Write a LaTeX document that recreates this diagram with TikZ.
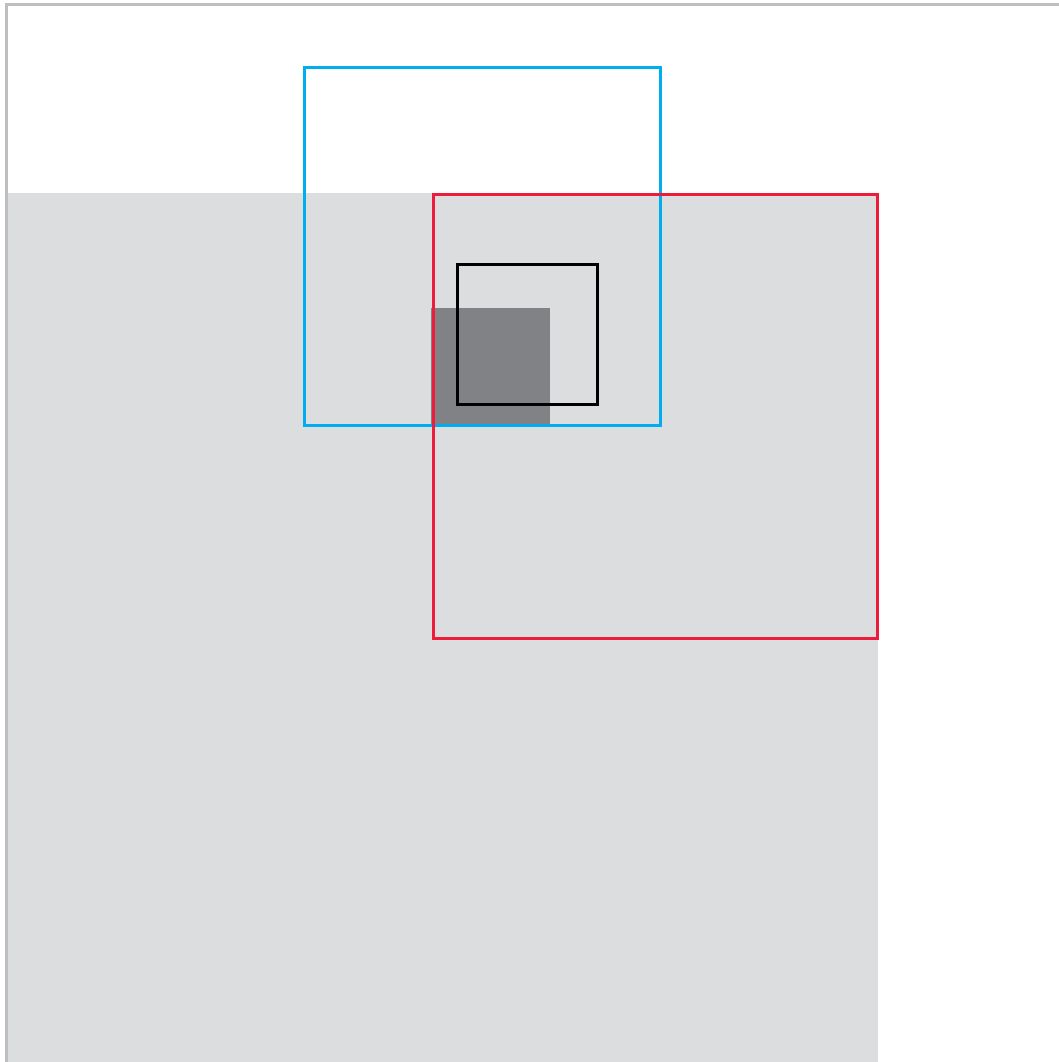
\documentclass[tikz,border=0pt]{standalone}
\definecolor{lightgr}{RGB}{220,221,223}
\definecolor{darkgr}{RGB}{128,130,133}
\definecolor{bordergr}{RGB}{190,190,192}
\definecolor{cyanb}{RGB}{0,174,239}
\definecolor{redr}{RGB}{237,28,58}
\begin{document}
\begin{tikzpicture}[x=1pt,y=-1pt,
  frame/.style={line width=3pt}]
\useasboundingbox (0,0) rectangle (1059,1062);
\fill[white] (0,0) rectangle (1059,1062);
% light gray area
\fill[lightgr] (7,193) rectangle (878,1062);
% border lines
\draw[bordergr,line width=3pt] (6,1062) -- (6,5) -- (1059,5);
% dark gray square
\fill[darkgr] (431,308) rectangle (550,425);
% blue square
\draw[frame,cyanb] (304,68) rectangle (660,425);
% red square
\draw[frame,redr] (433,194) rectangle (877,638);
% black square
\draw[frame,black] (457.5,264.5) rectangle (597.5,404);
\end{tikzpicture}
\end{document}
